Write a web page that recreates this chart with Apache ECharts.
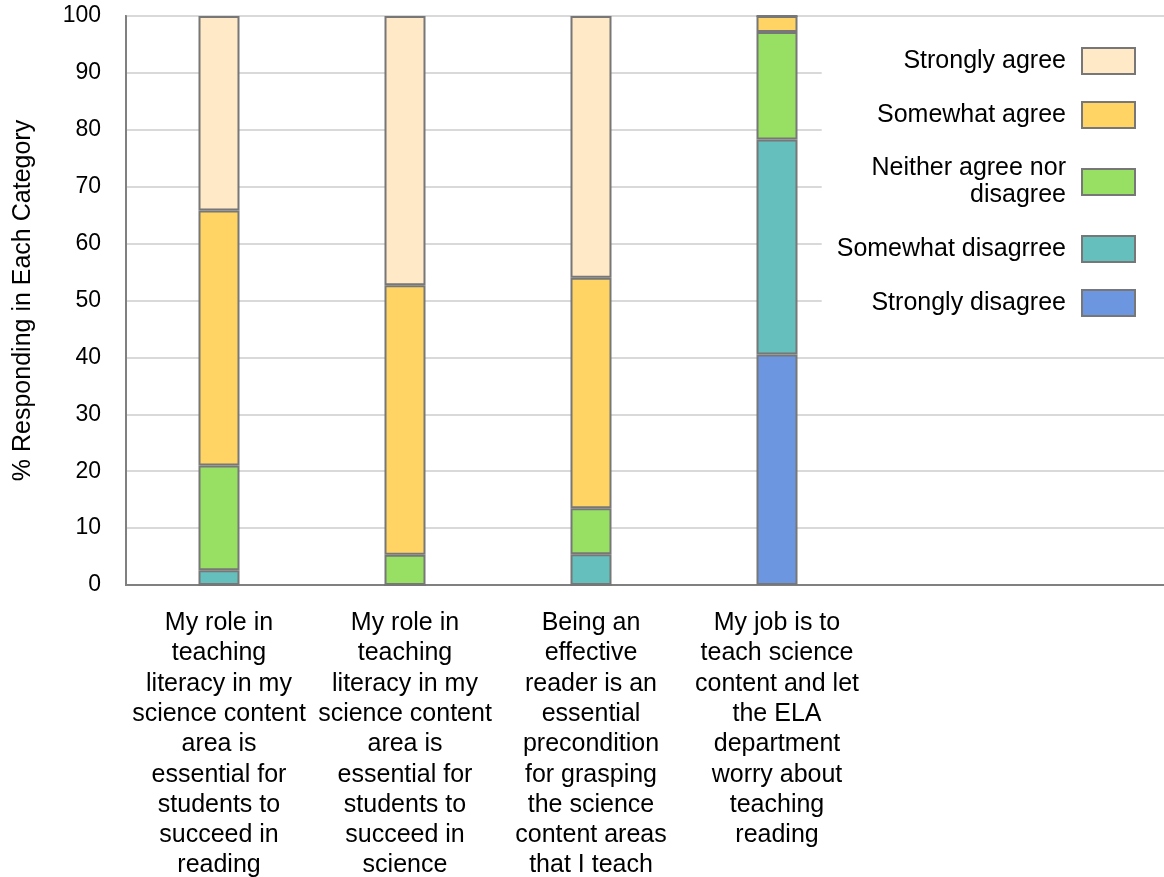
<!DOCTYPE html>
<html>
<head>
<meta charset="utf-8">
<script src="https://cdn.jsdelivr.net/npm/echarts@6/dist/echarts.min.js"></script>
<style>
  html, body { margin: 0; padding: 0; background: #fff; }
  #chart { width: 1164px; height: 877px; }
</style>
</head>
<body>
<div id="chart"></div>
<script>
// Survey statements (two trailing empty slots keep the spacing on the right)
const categories = [
  'My role in\nteaching\nliteracy in my\nscience content\narea is\nessential for\nstudents to\nsucceed in\nreading',
  'My role in\nteaching\nliteracy in my\nscience content\narea is\nessential for\nstudents to\nsucceed in\nscience',
  'Being an\neffective\nreader is an\nessential\nprecondition\nfor grasping\nthe science\ncontent areas\nthat I teach',
  'My job is to\nteach science\ncontent and let\nthe ELA\ndepartment\nworry about\nteaching\nreading',
  '',
  ''
];

// Percent of respondents per answer, one value per statement
const stronglyDisagree = [0, 0, 0, 40.5];
const somewhatDisagree = [2.6, 0, 5.4, 37.8];
const neitherAgree     = [18.4, 5.3, 8.1, 18.9];
const somewhatAgree    = [44.8, 47.4, 40.5, 2.8];
const stronglyAgree    = [34.2, 47.3, 46.0, 0];

const yTicks = { min: 0, max: 100, interval: 10 };

const seriesDefs = [
  { name: 'Strongly disagree', data: stronglyDisagree, color: '#6C96E0' },
  { name: 'Somewhat disagrree', data: somewhatDisagree, color: '#64BFBD' },
  { name: 'Neither agree nor disagree', data: neitherAgree, color: '#97E063' },
  { name: 'Somewhat agree', data: somewhatAgree, color: '#FFD464' },
  { name: 'Strongly agree', data: stronglyAgree, color: '#FFE9C6' }
];

const FONT = '"Liberation Sans", Arial, sans-serif';

const chart = echarts.init(document.getElementById('chart'), null, { renderer: 'canvas' });

chart.setOption({
  animation: false,
  backgroundColor: '#fff',
  grid: {
    left: 126,
    top: 16,
    width: 1116,
    height: 569,
    outerBoundsMode: 'none',
    containLabel: false,
    show: true,
    borderColor: '#808080',
    borderWidth: 2,
    backgroundColor: 'transparent'
  },
  legend: {
    data: seriesDefs.map(s => s.name).reverse(),
    orient: 'vertical',
    right: 0,
    top: 17,
    align: 'right',
    icon: 'rect',
    itemWidth: 53,
    itemHeight: 26,
    itemGap: 26,
    padding: [30, 28, 20, 15],
    backgroundColor: '#fff',
    formatter: name => name === 'Neither agree nor disagree' ? 'Neither agree nor\ndisagree' : name,
    textStyle: {
      fontFamily: FONT,
      fontSize: 25,
      lineHeight: 27,
      color: '#000',
      padding: [0, 11, 0, 0]
    }
  },
  xAxis: {
    type: 'category',
    data: categories,
    axisLine: { show: true, lineStyle: { color: '#808080', width: 2 } },
    axisTick: { show: false },
    axisLabel: {
      interval: 0,
      margin: 23,
      fontFamily: FONT,
      fontSize: 25,
      lineHeight: 30.3,
      color: '#000',
      align: 'center'
    },
    splitLine: { show: false }
  },
  yAxis: {
    type: 'value',
    min: yTicks.min,
    max: yTicks.max,
    interval: yTicks.interval,
    name: '% Responding in Each Category',
    nameLocation: 'middle',
    nameRotate: 90,
    nameGap: 90,
    nameTextStyle: { fontFamily: FONT, fontSize: 25, color: '#000' },
    axisLine: { show: true, lineStyle: { color: '#808080', width: 2 } },
    axisTick: { show: false },
    axisLabel: { margin: 25, fontFamily: FONT, fontSize: 23, color: '#000', padding: [6, 0, 0, 0] },
    splitLine: { show: true, lineStyle: { color: '#d9d9d9', width: 2 } }
  },
  series: seriesDefs.map(s => ({
    name: s.name,
    type: 'bar',
    stack: 'total',
    barWidth: 41,
    data: s.data,
    itemStyle: { color: s.color, borderColor: '#777777', borderWidth: 2 },
    emphasis: { disabled: true }
  }))
});
</script>
</body>
</html>
